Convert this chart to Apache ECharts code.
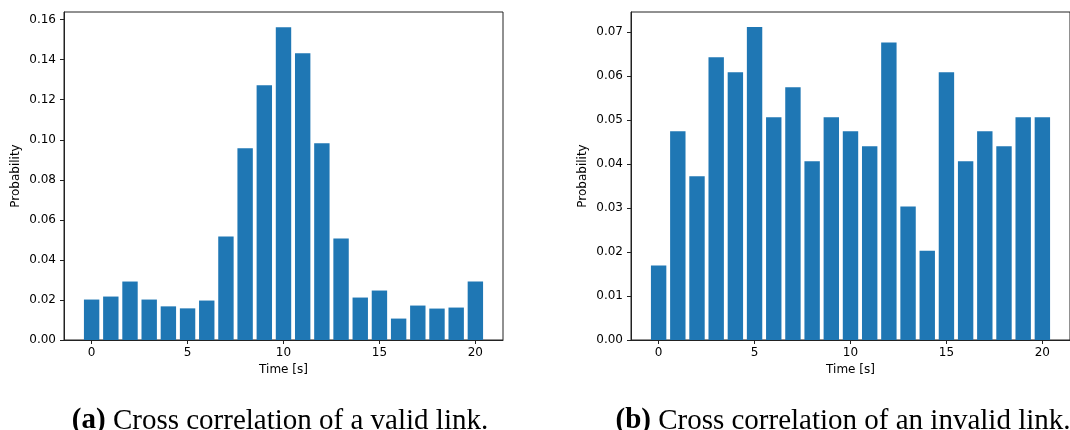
<!DOCTYPE html>
<html>
<head>
<meta charset="utf-8">
<script src="https://cdn.jsdelivr.net/npm/echarts@6/dist/echarts.min.js"></script>
<style>
  html, body { margin: 0; padding: 0; background: #fff; }
  #chart { width: 1070px; height: 430px; }
</style>
</head>
<body>
<div id="chart"></div>
<script>
// time lags (s)
const lags = [0, 1, 2, 3, 4, 5, 6, 7, 8, 9, 10, 11, 12, 13, 14, 15, 16, 17, 18, 19, 20]
// probabilities
const validProb = [0.0202, 0.0217, 0.0292, 0.0202, 0.0168, 0.0158, 0.0197, 0.0517, 0.0958, 0.1272, 0.1562,
  0.1432, 0.0982, 0.0507, 0.0212, 0.0247, 0.0107, 0.0172, 0.0157, 0.0162, 0.0292]
const invalidProb = [0.0169, 0.0474, 0.0372, 0.0642, 0.0608, 0.0711, 0.0506, 0.0574, 0.0406, 0.0506, 0.0474,
  0.0440, 0.0676, 0.0303, 0.0203, 0.0608, 0.0406, 0.0474, 0.0440, 0.0506, 0.0506]
const xTicks = [0, 5, 10, 15, 20]
const validYTicks = [0, 0.02, 0.04, 0.06, 0.08, 0.10, 0.12, 0.14, 0.16]
const invalidYTicks = [0, 0.01, 0.02, 0.03, 0.04, 0.05, 0.06, 0.07]

const chart = echarts.init(document.getElementById('chart'))

const labelFont = { fontFamily: 'DejaVu Sans', fontSize: 12, color: '#000' }
const axisLineStyle = { lineStyle: { color: '#222', width: 1 } }

const makeX = (gridIndex) => ({
  type: 'value',
  gridIndex,
  min: -1.44,
  max: 21.44,
  name: 'Time [s]',
  nameLocation: 'middle',
  nameGap: 22,
  nameTextStyle: labelFont,
  axisLine: { show: true, onZero: false, ...axisLineStyle },
  axisTick: { show: true, length: 4, inside: false, customValues: xTicks, lineStyle: { color: '#222' } },
  axisLabel: { ...labelFont, margin: 7, customValues: xTicks },
  splitLine: { show: false }
})

const makeY = (gridIndex, max, ticks) => ({
  type: 'value',
  gridIndex,
  min: 0,
  max,
  name: 'Probability',
  nameLocation: 'middle',
  nameGap: 42,
  nameTextStyle: labelFont,
  axisLine: { show: true, onZero: false, ...axisLineStyle },
  axisTick: { show: true, length: 4, customValues: ticks, lineStyle: { color: '#222' } },
  axisLabel: { ...labelFont, margin: 8, customValues: ticks, formatter: (v) => v.toFixed(2) },
  splitLine: { show: false }
})

const captionRich = (fontWeight) => ({ fontFamily: 'Liberation Serif', fontSize: 29, fontWeight, fill: '#000' })

const option = {
  animation: false,
  backgroundColor: '#fff',
  grid: [
    { left: 64, top: 12, width: 439, height: 328, show: true, borderColor: '#222', borderWidth: 1 },
    { left: 631, top: 12, width: 441, height: 328, show: true, borderColor: '#222', borderWidth: 1 }
  ],
  xAxis: [makeX(0), makeX(1)],
  yAxis: [makeY(0, 0.1638, validYTicks), makeY(1, 0.0745, invalidYTicks)],
  series: [
    {
      type: 'bar',
      xAxisIndex: 0,
      yAxisIndex: 0,
      barWidth: 15.4,
      itemStyle: { color: '#1f77b4' },
      data: lags.map((t, i) => [t, validProb[i]])
    },
    {
      type: 'bar',
      xAxisIndex: 1,
      yAxisIndex: 1,
      barWidth: 15.4,
      itemStyle: { color: '#1f77b4' },
      data: lags.map((t, i) => [t, invalidProb[i]])
    }
  ],
  graphic: [
    {
      type: 'text',
      x: 280,
      y: 421,
      style: {
        text: '{b|(a)}{n| Cross correlation of a valid link.}',
        align: 'center',
        verticalAlign: 'middle',
        rich: { b: captionRich('bold'), n: captionRich('normal') }
      }
    },
    {
      type: 'text',
      x: 843,
      y: 421,
      style: {
        text: '{b|(b)}{n| Cross correlation of an invalid link.}',
        align: 'center',
        verticalAlign: 'middle',
        rich: { b: captionRich('bold'), n: captionRich('normal') }
      }
    }
  ]
}

chart.setOption(option)
window.addEventListener('resize', () => chart.resize())
</script>
</body>
</html>
